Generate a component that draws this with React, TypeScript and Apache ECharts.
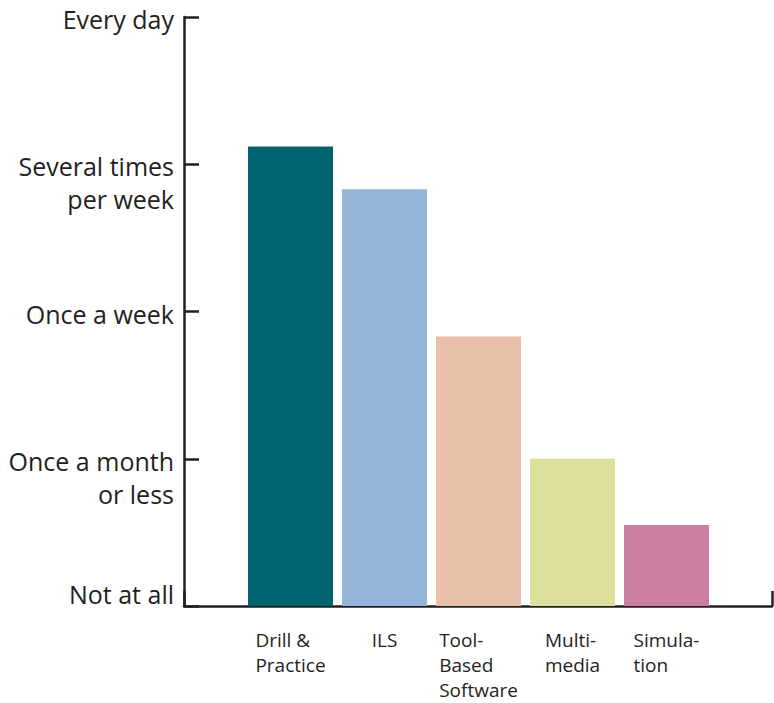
import React, { useEffect, useRef } from "react";
import * as echarts from "echarts";

// Software types and how often each is used (0 = not at all … 4 = every day)
const categories = ["Drill &\nPractice", "ILS", "Tool-\nBased\nSoftware", "Multi-\nmedia", "Simula-\ntion"];
const usage = [3.12, 2.83, 1.83, 1.0, 0.55];
const barColors = ["#00636f", "#93b5d9", "#e8bfa9", "#dce09c", "#cc7ea2"];
const frequencyLabels = ["Not at all", "Once a month\nor less", "Once a week", "Several times\nper week", "Every day"];

const INK = "#231f20";
const FONT = "'Open Sans', 'DejaVu Sans', sans-serif";

export default function App() {
  const ref = useRef<HTMLDivElement>(null);

  useEffect(() => {
    document.body.style.margin = "0";
    const chart = echarts.init(ref.current!, null, { renderer: "svg" });

    // First line of each label sits on its tick; the bottom one is lifted above the axis.
    const yLabel = (v: number) => {
      const text = frequencyLabels[v];
      if (text === undefined) return "";
      const lines = text.split("\n");
      if (v === 0) return `{a|${lines[0]}}\n{s| }`;
      if (lines.length > 1) return `{g| }\n` + lines.map((l) => `{a|${l}}`).join("\n");
      return `{a|${text}}`;
    };

    const gridTop = 17;
    const gridBottom = 97;

    chart.setOption({
      animation: false,
      backgroundColor: "#ffffff",
      grid: [
        { left: 184, top: gridTop, width: 588, bottom: gridBottom },
        { left: 243.5, top: gridTop, width: 470, bottom: gridBottom },
      ],
      xAxis: [
        {
          gridIndex: 0,
          type: "value",
          min: 0,
          max: 1,
          interval: 1,
          axisLine: { show: true, lineStyle: { color: INK, width: 2.5 } },
          axisTick: { show: true, inside: true, length: 15, lineStyle: { color: INK, width: 2.5 } },
          axisLabel: { show: false },
          splitLine: { show: false },
        },
        {
          gridIndex: 1,
          type: "category",
          data: categories,
          axisLine: { show: false },
          axisTick: { show: false },
          axisLabel: {
            margin: 21,
            align: "center",
            formatter: (val: string) =>
              val
                .split("\n")
                .map((l) => `{c|${l}}`)
                .join("\n"),
            rich: {
              c: { fontFamily: FONT, fontSize: 19, lineHeight: 25, color: INK, align: "left" },
            },
          },
        },
      ],
      yAxis: [
        {
          gridIndex: 0,
          type: "value",
          min: 0,
          max: 4,
          interval: 1,
          axisLine: { show: true, lineStyle: { color: INK, width: 2.5 } },
          axisTick: { show: true, inside: true, length: 15, lineStyle: { color: INK, width: 2.5 } },
          splitLine: { show: false },
          axisLabel: {
            margin: 10,
            padding: [4, 0, 0, 0],
            formatter: yLabel,
            rich: {
              a: { fontFamily: FONT, fontSize: 25, lineHeight: 33, color: INK, align: "right" },
              g: { fontFamily: FONT, fontSize: 25, lineHeight: 33 },
              s: { fontFamily: FONT, fontSize: 25, lineHeight: 28 },
            },
          },
        },
        {
          gridIndex: 1,
          type: "value",
          min: 0,
          max: 4,
          show: false,
        },
      ],
      series: [
        {
          type: "bar",
          xAxisIndex: 1,
          yAxisIndex: 1,
          barWidth: 85,
          z: 5,
          data: usage.map((v, i) => ({ value: v, itemStyle: { color: barColors[i] } })),
        },
      ],
    });

    return () => chart.dispose();
  }, []);

  return <div ref={ref} style={{ width: 774, height: 703 }} />;
}
